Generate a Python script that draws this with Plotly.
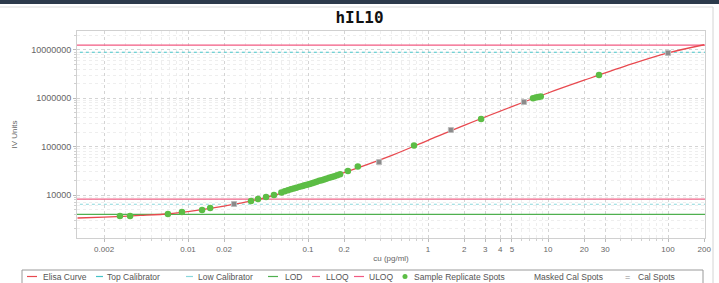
import plotly.graph_objects as go

# ---------------- data ----------------
curve_conc = [0.0012, 0.002, 0.004, 0.007, 0.01, 0.02, 0.03, 0.05, 0.1, 0.2,
              0.5, 1, 2, 5, 10, 20, 50, 100, 200]
curve_fi = [3350, 3500, 3780, 4100, 4550, 5900, 7100, 9600, 16500, 29000,
            66000, 135000, 275000, 670000, 1280000, 2350000, 5100000, 8600000, 12700000]

sample_conc = [0.00271, 0.00329, 0.0068, 0.0089, 0.0131, 0.0153, 0.0335, 0.0383,
               0.0447, 0.052, 0.060, 0.064, 0.068, 0.072, 0.076, 0.080, 0.085,
               0.090, 0.094, 0.098, 0.103, 0.108, 0.113, 0.118, 0.124, 0.130,
               0.136, 0.142, 0.150, 0.158, 0.166, 0.175, 0.185, 0.215, 0.26,
               0.764, 2.77, 7.5, 7.9, 8.3, 8.7, 26.6]
sample_fi = [3680, 3700, 4050, 4460, 4900, 5380, 7520, 8270,
             9100, 10000, 11300, 11900, 12500, 13100, 13600, 14200, 14800,
             15400, 15900, 16300, 16900, 17600, 18200, 18800, 19600, 20300,
             21000, 21700, 22600, 23500, 24500, 25600, 26800, 31500, 39000,
             105000, 372000, 1000000, 1030000, 1060000, 1090000, 3010000]

cal_conc = [0.0242, 0.391, 1.55, 6.3, 100]
cal_fi = [6520, 47900, 220000, 834000, 8600000]

uloq = 12500000
top_calibrator = 8900000
lloq = 8200
low_calibrator = 6450
lod = 4000

x_tick_vals = [0.002, 0.01, 0.02, 0.1, 0.2, 1, 2, 3, 4, 5, 10, 20, 30, 100, 200]
x_tick_text = ["0.002", "0.01", "0.02", "0.1", "0.2", "1", "2", "3", "4", "5",
               "10", "20", "30", "100", "200"]
y_tick_vals = [10000, 100000, 1000000, 10000000]
y_tick_text = ["10000", "100000", "1000000", "10000000"]

legend_names = ["Elisa Curve", "Top Calibrator", "Low Calibrator", "LOD", "LLOQ",
                "ULOQ", "Sample Replicate Spots", "Masked Cal Spots", "Cal Spots"]

# ---------------- styling ----------------
C_CURVE = "#e8494f"
C_ULOQ = "#f25a82"
C_LLOQ = "#f0668a"
C_TOP = "#45c4c8"
C_LOW = "#8ad8dc"
C_LOD = "#4fb04f"
C_SAMPLE = "#5cbd45"
C_CAL = "#8a8a8a"

W, H = 719, 283
L, R, T, B = 77, 14, 31, 45
PW, PH = W - L - R, H - T - B


def px2x(px):
    return (px - L) / PW


def px2y(py):
    return (H - B - py) / PH


line_x = [0.0005, 500]

fig = go.Figure()

for val, col, dash in [(lod, C_LOD, "solid"), (low_calibrator, C_LOW, "dot"),
                       (lloq, C_LLOQ, "solid"), (top_calibrator, C_TOP, "dot"),
                       (uloq, C_ULOQ, "solid")]:
    fig.add_trace(go.Scatter(x=line_x, y=[val, val], mode="lines",
                             line=dict(color=col, width=1.2, dash=dash),
                             showlegend=False, hoverinfo="skip"))

fig.add_trace(go.Scatter(x=curve_conc, y=curve_fi, mode="lines",
                         line=dict(color=C_CURVE, width=1.3, shape="spline"),
                         showlegend=False, name="Elisa Curve"))
fig.add_trace(go.Scatter(x=sample_conc, y=sample_fi, mode="markers",
                         marker=dict(color=C_SAMPLE, size=6.5, line=dict(width=0)),
                         showlegend=False, name="Sample Replicate Spots"))
fig.add_trace(go.Scatter(x=cal_conc, y=cal_fi, mode="markers",
                         marker=dict(color=C_CAL, size=5, symbol="square",
                                     line=dict(color="#bbbbbb", width=1)),
                         showlegend=False, name="Cal Spots"))

# minor grid positions
x_minor = [m * 10 ** e for e in range(-3, 3) for m in range(2, 10)]
y_minor = [m * 10 ** e for e in range(3, 8) for m in range(2, 10)]

axis_font = dict(color="#666", family="Liberation Sans")
fig.update_xaxes(type="log", range=[-2.925, 2.308], automargin=False,
                 tickvals=x_tick_vals, ticktext=x_tick_text,
                 tickfont=dict(size=8, **axis_font),
                 showgrid=True, gridcolor="#d4d4d4", griddash="dot", gridwidth=1,
                 minor=dict(tickvals=x_minor, showgrid=True, gridcolor="#eeeeee",
                            griddash="dot", ticks="outside", ticklen=2,
                            tickcolor="#d0d0d0"),
                 ticks="outside", ticklen=3, tickcolor="#bbbbbb",
                 showline=True, mirror=True, linecolor="#d0d0d0", linewidth=1,
                 zeroline=False,
                 title=dict(text="cu (pg/ml)", standoff=2, font=dict(size=8, **axis_font)))
fig.update_yaxes(type="log", range=[3.112, 7.388], automargin=False,
                 tickvals=y_tick_vals, ticktext=y_tick_text,
                 tickfont=dict(size=9, **axis_font),
                 showgrid=True, gridcolor="#d4d4d4", griddash="dot", gridwidth=1,
                 minor=dict(tickvals=y_minor, showgrid=True, gridcolor="#eeeeee",
                            griddash="dot", ticks="outside", ticklen=2,
                            tickcolor="#d0d0d0"),
                 ticks="outside", ticklen=3, tickcolor="#bbbbbb",
                 showline=True, mirror=True, linecolor="#d0d0d0", linewidth=1,
                 zeroline=False,
                 title=dict(text="IV Units", standoff=12, font=dict(size=8, **axis_font)))

shapes = []
annotations = []
# dark band at the top and frame lines of the screenshot
shapes.append(dict(type="rect", xref="paper", yref="paper", x0=px2x(-2), x1=px2x(W + 2),
                   y0=px2y(-2), y1=px2y(4), fillcolor="#2c3a4b", line=dict(width=0),
                   layer="above"))
shapes.append(dict(type="line", xref="paper", yref="paper", x0=px2x(0), x1=px2x(713),
                   y0=px2y(7), y1=px2y(7), line=dict(color="#dcdcdc", width=1)))
shapes.append(dict(type="line", xref="paper", yref="paper", x0=px2x(713), x1=px2x(713),
                   y0=px2y(7), y1=px2y(H + 2), line=dict(color="#d4d4d4", width=1)))

# legend box
shapes.append(dict(type="rect", xref="paper", yref="paper", x0=px2x(22), x1=px2x(703),
                   y0=px2y(270), y1=px2y(H + 3), line=dict(color="#9a9a9a", width=1),
                   fillcolor="rgba(0,0,0,0)"))
ly = px2y(276.5)
leg_items = [
    ("line", C_CURVE, 27, 37, 42),
    ("line", C_TOP, 96, 103, 106),
    ("line", C_LOW, 186, 193, 197),
    ("line", C_LOD, 268, 278, 284),
    ("line", C_LLOQ, 312, 320, 325),
    ("line", C_ULOQ, 354, 364, 368),
    ("dot", C_SAMPLE, 405, 405, 413),
    ("none", None, 0, 0, 533),
    ("eq", C_CAL, 627, 627, 637),
]
for (kind, col, a, b, tx), name in zip(leg_items, legend_names):
    if kind == "line":
        shapes.append(dict(type="line", xref="paper", yref="paper", x0=px2x(a), x1=px2x(b),
                           y0=ly, y1=ly, line=dict(color=col, width=1.2)))
    elif kind == "dot":
        shapes.append(dict(type="circle", xref="paper", yref="paper",
                           xsizemode="pixel", ysizemode="pixel",
                           xanchor=px2x(a), yanchor=ly, x0=-2.5, x1=2.5, y0=-2.5, y1=2.5,
                           fillcolor=col, line=dict(width=0)))
    elif kind == "eq":
        annotations.append(dict(xref="paper", yref="paper", x=px2x(a), y=ly, text="=",
                                showarrow=False, xanchor="center", yanchor="middle",
                                borderpad=0,
                                font=dict(size=9, color=col, family="Liberation Sans")))
    annotations.append(dict(xref="paper", yref="paper", x=px2x(tx), y=ly, text=name,
                            showarrow=False, xanchor="left", yanchor="middle",
                            borderpad=0,
                            font=dict(size=8.5, color="#555", family="Liberation Sans")))

fig.update_layout(
    width=W, height=H,
    margin=dict(l=L, r=R, t=T, b=B, autoexpand=False),
    paper_bgcolor="white", plot_bgcolor="white",
    showlegend=False,
    title=dict(text="<b>hIL10</b>", x=0.5, xanchor="center", y=1 - 17 / H,
               yanchor="middle", font=dict(size=16, color="#111",
                                           family="DejaVu Sans Mono")),
    shapes=shapes, annotations=annotations,
)

fig.write_html("out.html", config={"displayModeBar": False},
               post_script="document.body.style.margin='0';"
                           "document.body.style.overflow='hidden';")
